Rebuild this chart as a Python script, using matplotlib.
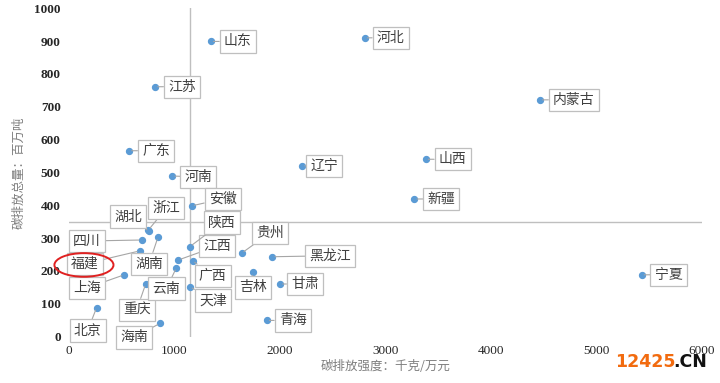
import matplotlib.pyplot as plt
from matplotlib.patches import Ellipse

plt.rcParams['font.family'] = ['Noto Sans CJK SC', 'DejaVu Sans']

# 省份・碳排放强度(千克/万元)・碳排放总量(百万吨)
provinces = ["山东", "江苏", "广东", "河南", "辽宁", "河北", "内蒙古", "山西", "新疆", "宁夏",
             "安徽", "湖北", "浙江", "四川", "福建", "湖南", "上海", "重庆", "北京", "海南",
             "江西", "云南", "陕西", "广西", "天津", "贵州", "吉林", "黑龙江", "甘肃", "青海"]
intensity = [1344, 815, 569, 979, 2209, 2803, 4464, 3381, 3273, 5428,
             1163, 761, 752, 689, 673, 844, 524, 727, 262, 863,
             1036, 1019, 1147, 1172, 1147, 1637, 1741, 1927, 2000, 1874]
emission = [899, 761, 566, 489, 520, 910, 721, 540, 419, 188,
            398, 320, 324, 294, 261, 303, 188, 160, 88, 40,
            233, 210, 274, 231, 152, 254, 195, 243, 160, 49]

# 平均线
x_mean = 1147
y_mean = 348

# ラベル位置 (ピクセル差分, 点からの位置)
label_offsets = {
    "山东": (27, 0), "江苏": (27, 0), "广东": (27, 0), "河南": (26, -1), "辽宁": (22, 0),
    "河北": (26, 0), "内蒙古": (34, 0), "山西": (27, 0), "新疆": (27, 0), "宁夏": (27, 0),
    "安徽": (31, 7), "湖北": (-21, 15), "浙江": (18, 22), "四川": (-55, -1), "福建": (-55, -13),
    "湖南": (-9, -27), "上海": (-37, -13), "重庆": (-9, -26), "北京": (-9, -23), "海南": (-26, -14),
    "江西": (39, 14), "云南": (-10, -21), "陕西": (32, 24), "广西": (20, -15), "天津": (23, -14),
    "贵州": (28, 20), "吉林": (0, -15), "黑龙江": (58, 1), "甘肃": (25, 0), "青海": (26, 0),
}

fig = plt.figure(figsize=(7.2, 3.83), dpi=100)
ax = fig.add_axes([0.0958, 0.1214, 0.879, 0.857])

ax.plot([x_mean, x_mean], [0, 1000], color="#bfbfbf", lw=1.0, zorder=1)
ax.plot([0, 6000], [y_mean, y_mean], color="#bfbfbf", lw=1.0, zorder=1)

ax.scatter(intensity, emission, s=18, color="#5b9bd5", zorder=3, clip_on=False)

for name, x, y in zip(provinces, intensity, emission):
    dx, dy = label_offsets[name]
    ax.annotate(name, (x, y), xytext=(dx * 0.72, dy * 0.72), textcoords="offset points",
                ha="center", va="center", fontsize=10, color="#404040", zorder=4,
                bbox=dict(boxstyle="square,pad=0.3", fc="white", ec="#bfbfbf", lw=0.9),
                arrowprops=dict(arrowstyle="-", color="#a6a6a6", lw=0.8, shrinkA=0, shrinkB=2))

# 福建の赤丸
ax.add_patch(Ellipse((142, 218), 560, 72, fill=False, ec="#e02020", lw=1.4, zorder=5, clip_on=False))

ax.set_xlim(0, 6000)
ax.set_ylim(0, 1000)
ax.set_xticks(range(0, 6001, 1000))
ax.set_yticks(range(0, 1001, 100))
for s in ax.spines.values():
    s.set_visible(False)
ax.tick_params(length=0, pad=6)
for t in ax.get_xticklabels():
    t.set_fontfamily("Liberation Serif")
    t.set_fontsize(9.5)
    t.set_color("#262626")
for t in ax.get_yticklabels():
    t.set_fontfamily("Liberation Serif")
    t.set_fontsize(9.5)
    t.set_fontweight("bold")
    t.set_color("#262626")

ax.set_xlabel("碳排放强度：千克/万元", fontsize=9, color="#7f7f7f", labelpad=2)
ax.set_ylabel("碳排放总量：百万吨", fontsize=9, color="#7f7f7f", labelpad=6)

# 透かし
fig.text(0.854, 0.042, "12425", color="#f26b0f", fontsize=12.5, fontweight="bold", family="DejaVu Sans")
fig.text(0.935, 0.042, ".CN", color="#111111", fontsize=12.5, fontweight="bold", family="DejaVu Sans")

plt.savefig("out.png", dpi=100)
